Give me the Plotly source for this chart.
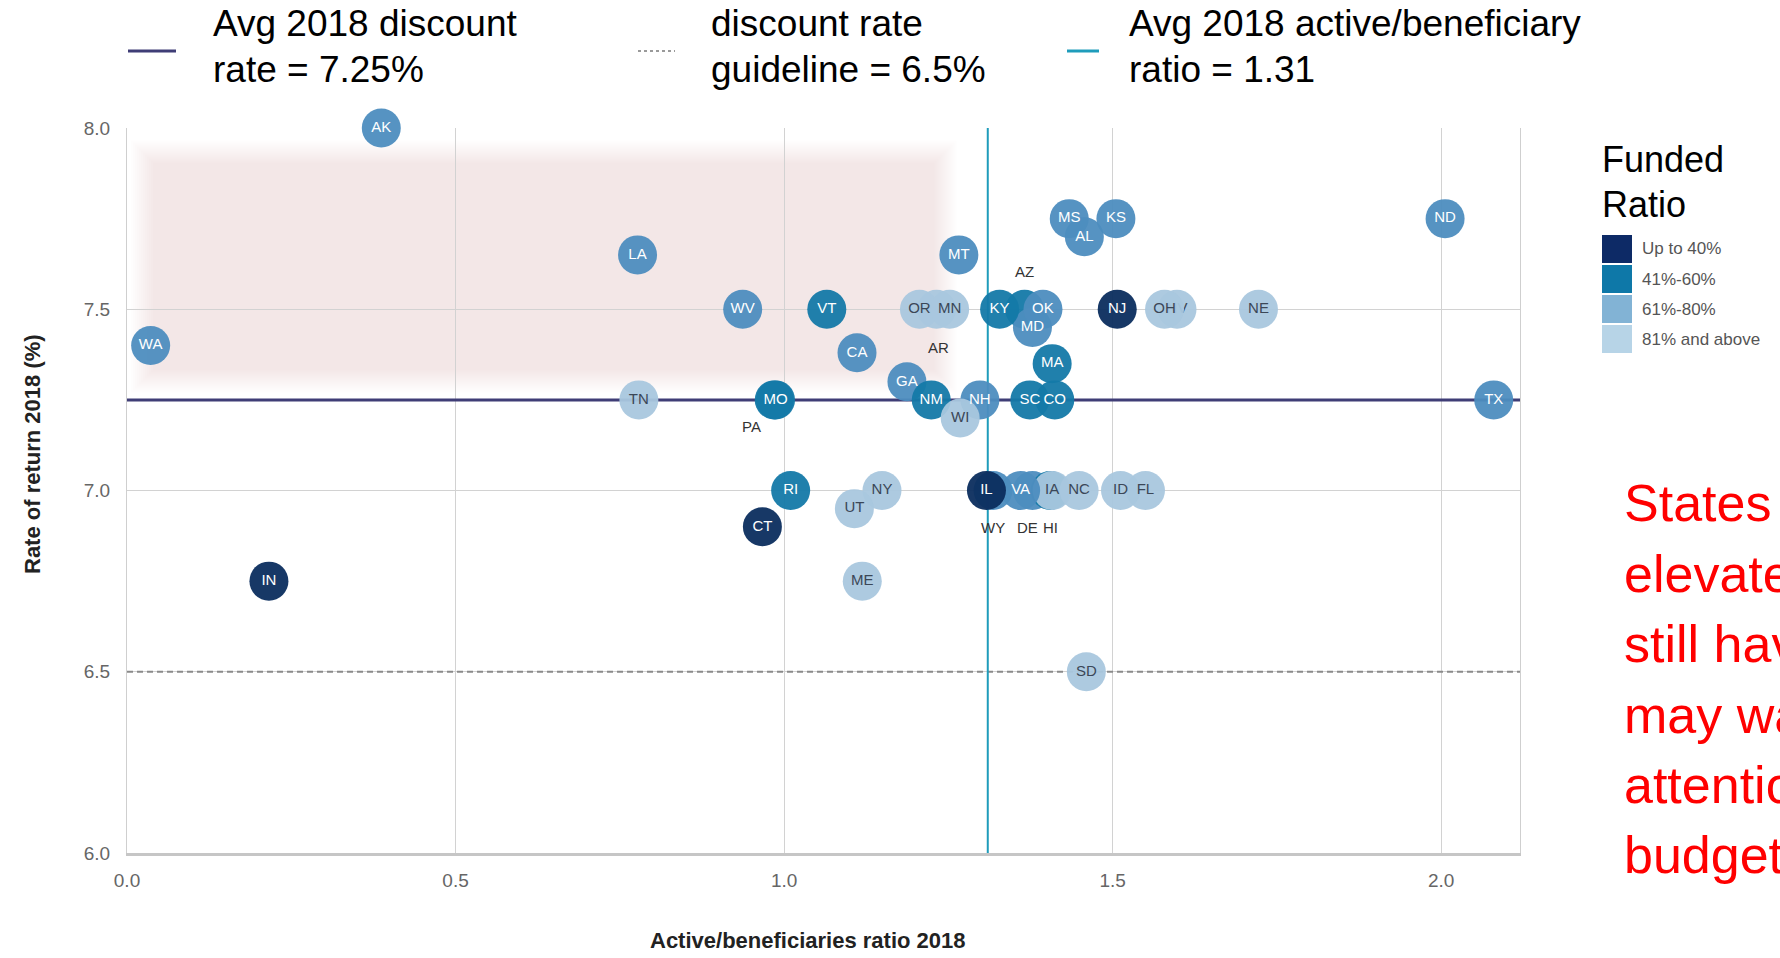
import plotly.graph_objects as go

# ---------------------------------------------------------------- data
funded_labels = ["Up to 40%", "41%-60%", "61%-80%", "81% and above"]

# states in drawing order (back to front)
states = ["AR", "AZ", "PA", "WY", "DE", "HI",
          "AK", "LA", "WA", "WV", "VT", "OR", "MN", "MT", "CA", "GA",
          "NM", "NH", "WI", "TN", "MO", "MD", "OK", "KY", "MS", "AL",
          "KS", "NJ", "NV", "OH", "NE", "ND", "TX", "MA", "CO", "SC",
          "RI", "CT", "NY", "UT", "ME", "IN", "IA", "NC", "VA", "IL",
          "FL", "ID", "SD"]

active_ratio = [1.232, 1.366, 0.985, 1.318, 1.378, 1.405,
                0.387, 0.777, 0.036, 0.937, 1.065, 1.206, 1.252, 1.266, 1.111, 1.187,
                1.224, 1.298, 1.268, 0.779, 0.987, 1.378, 1.394, 1.328, 1.434, 1.457,
                1.505, 1.507, 1.598, 1.579, 1.722, 2.006, 2.080, 1.408, 1.412, 1.374,
                1.010, 0.967, 1.149, 1.107, 1.119, 0.216, 1.408, 1.449, 1.360, 1.308,
                1.550, 1.512, 1.460]

return_rate = [7.50, 7.50, 7.25, 7.00, 7.00, 7.00,
               8.00, 7.65, 7.40, 7.50, 7.50, 7.50, 7.50, 7.65, 7.38, 7.30,
               7.25, 7.25, 7.20, 7.25, 7.25, 7.45, 7.50, 7.50, 7.75, 7.70,
               7.75, 7.50, 7.50, 7.50, 7.50, 7.75, 7.25, 7.35, 7.25, 7.25,
               7.00, 6.90, 7.00, 6.95, 6.75, 6.75, 7.00, 7.00, 7.00, 7.00,
               7.00, 7.00, 6.50]

# funded-ratio band index into funded_labels
funded_band = [3, 1, 1, 2, 2, 1,
               2, 2, 2, 2, 1, 3, 3, 2, 2, 2,
               1, 2, 3, 3, 1, 2, 2, 1, 2, 2,
               2, 0, 3, 3, 3, 2, 2, 1, 1, 1,
               1, 0, 3, 3, 3, 0, 3, 3, 2, 0,
               3, 3, 3]

# states whose bubble is hidden behind neighbours get an outside label
callout_states = ["AR", "AZ", "PA", "WY", "DE", "HI"]
# label drawn beneath the neighbouring bubble
buried_label_states = ["NV"]

AVG_DISCOUNT = 7.25
GUIDELINE = 6.5
AVG_RATIO = 1.31

x_ticks = [0.0, 0.5, 1.0, 1.5, 2.0]
y_ticks = [6.0, 6.5, 7.0, 7.5, 8.0]

legend_texts = [["Avg 2018 discount", "rate = 7.25%"],
                ["discount rate", "guideline = 6.5%"],
                ["Avg 2018 active/beneficiary", "ratio = 1.31"]]

note_lines = ["States with", "elevated", "still have", "may want", "attention", "budget"]

# ---------------------------------------------------------------- styling
W, H = 1780, 958
ML, MR, MT_, MB = 127, 260, 128, 105
PW, PH = W - ML - MR, H - MT_ - MB
X_RANGE = [0, 2.12]
Y_RANGE = [6.0, 8.0]

marker_colors = ["#0b2d5e", "#1479a8", "#4d8dbf", "#a9c7de"]
swatch_colors = ["#0d2a66", "#0e78a8", "#82b3d5", "#b7d4e7"]
text_colors = ["#ffffff", "#ffffff", "#ffffff", "#3b4757"]

NAVY = "#3f3d76"
TEAL = "#1f9cbb"
GUIDE_GREY = "#8a8a8a"
GRID = "#d2d2d2"
FONT = "Liberation Sans, Arial, sans-serif"
MARKER_SIZE = 39
LABEL_SIZE = 15

callout_shift = {"AR": (2, -38), "AZ": (0, 38), "PA": (-23, -27),
                 "WY": (0, -37), "DE": (-5, -37), "HI": (0, -37)}


def px_x(px):
    return (px - ML) / PW


def px_y(py):
    return 1 - (py - MT_) / PH


fig = go.Figure()

# reference lines, drawn first so the bubbles sit on top
fig.add_trace(go.Scatter(x=X_RANGE, y=[AVG_DISCOUNT, AVG_DISCOUNT], mode="lines",
                         line=dict(color=NAVY, width=3), hoverinfo="skip",
                         showlegend=False))
fig.add_trace(go.Scatter(x=X_RANGE, y=[GUIDELINE, GUIDELINE], mode="lines",
                         line=dict(color=GUIDE_GREY, width=2, dash="6px,4px"),
                         hoverinfo="skip", showlegend=False))
fig.add_trace(go.Scatter(x=[AVG_RATIO, AVG_RATIO], y=Y_RANGE, mode="lines",
                         line=dict(color=TEAL, width=2), hoverinfo="skip",
                         showlegend=False))

# bubbles, one trace each so later states overlap earlier ones
for st, xv, yv, band in zip(states, active_ratio, return_rate, funded_band):
    buried = st in buried_label_states
    fig.add_trace(go.Scatter(
        x=[xv], y=[yv],
        mode="markers+text" if buried else "markers",
        text=[st] if buried else None,
        textposition="middle center",
        textfont=dict(family=FONT, size=LABEL_SIZE, color=text_colors[band]),
        marker=dict(size=MARKER_SIZE, color=marker_colors[band], opacity=0.95,
                    line=dict(width=0)),
        cliponaxis=False,
        showlegend=False,
        hoverinfo="text",
        hovertext=f"{st}: {xv:.2f}, {yv:.2f}% ({funded_labels[band]})",
    ))

# state labels on top of all bubbles
lab_x, lab_y, lab_t, lab_c = [], [], [], []
for st, xv, yv, band in zip(states, active_ratio, return_rate, funded_band):
    if st in callout_states or st in buried_label_states:
        continue
    lab_x.append(xv)
    lab_y.append(yv)
    lab_t.append(st)
    lab_c.append(text_colors[band])
fig.add_trace(go.Scatter(
    x=lab_x, y=lab_y, text=lab_t, mode="text", textposition="middle center",
    textfont=dict(family=FONT, size=LABEL_SIZE, color=lab_c),
    cliponaxis=False, hoverinfo="skip", showlegend=False))

annotations = []
shapes = []

# outside labels for hidden bubbles
for st, xv, yv in zip(states, active_ratio, return_rate):
    if st in callout_states:
        dx, dy = callout_shift[st]
        annotations.append(dict(
            x=xv, y=yv, xref="x", yref="y", text=st, showarrow=False,
            xshift=dx, yshift=dy,
            font=dict(family=FONT, size=15, color="#333333")))

# soft pink highlight zone (layered for a feathered edge)
SHADE_X = [0.006, 1.262]
SHADE_Y = [7.27, 7.965]
n_layers = 12
step_px = 2.0
ux = (X_RANGE[1] - X_RANGE[0]) / PW
uy = (Y_RANGE[1] - Y_RANGE[0]) / PH
for i in range(n_layers):
    shapes.append(dict(
        type="rect", xref="x", yref="y", layer="below",
        x0=SHADE_X[0] + i * step_px * ux, x1=SHADE_X[1] - i * step_px * ux,
        y0=SHADE_Y[0] + i * step_px * uy, y1=SHADE_Y[1] - i * step_px * uy,
        fillcolor="rgba(215,140,140,0.02)", line=dict(width=0)))

# top legend
sym_x = [(128, 176), (638, 675), (1067, 1099)]
sym_style = [dict(color=NAVY, width=3),
             dict(color="#9a9a9a", width=2, dash="dot"),
             dict(color=TEAL, width=3)]
text_x = [211, 709, 1127]
for (a, b), style, tx, lines in zip(sym_x, sym_style, text_x, legend_texts):
    shapes.append(dict(type="line", xref="paper", yref="paper",
                       x0=px_x(a), x1=px_x(b), y0=px_y(51), y1=px_y(51),
                       line=style))
    for ly, line in zip([24, 69], lines):
        annotations.append(dict(
            xref="paper", yref="paper", x=px_x(tx), y=px_y(ly),
            xanchor="left", yanchor="middle", text=line, showarrow=False,
            font=dict(family=FONT, size=37, color="#000000")))

# funded ratio legend
for ly, line in zip([160, 205], ["Funded", "Ratio"]):
    annotations.append(dict(
        xref="paper", yref="paper", x=px_x(1600), y=px_y(ly),
        xanchor="left", yanchor="middle", text=line, showarrow=False,
        font=dict(family=FONT, size=36, color="#000000")))
for i, (lab, col) in enumerate(zip(funded_labels, swatch_colors)):
    top = 235 + i * 30
    shapes.append(dict(type="rect", xref="paper", yref="paper",
                       x0=px_x(1602), x1=px_x(1632),
                       y0=px_y(top), y1=px_y(top + 28),
                       fillcolor=col, line=dict(width=0)))
    annotations.append(dict(
        xref="paper", yref="paper", x=px_x(1640), y=px_y(top + 14),
        xanchor="left", yanchor="middle", text=lab, showarrow=False,
        font=dict(family=FONT, size=17, color="#555555")))

# side note
for i, line in enumerate(note_lines):
    annotations.append(dict(
        xref="paper", yref="paper", x=px_x(1622), y=px_y(503 + i * 70.5),
        xanchor="left", yanchor="middle", text=line, showarrow=False,
        font=dict(family=FONT, size=52, color="#ff0000")))

# axis titles
annotations.append(dict(
    xref="paper", yref="paper", x=px_x(808), y=px_y(940),
    xanchor="center", yanchor="middle", showarrow=False,
    text="<b>Active/beneficiaries ratio 2018</b>",
    font=dict(family=FONT, size=22, color="#222222")))
annotations.append(dict(
    xref="paper", yref="paper", x=px_x(32), y=px_y(454),
    xanchor="center", yanchor="middle", showarrow=False, textangle=-90,
    text="<b>Rate of return 2018 (%)</b>",
    font=dict(family=FONT, size=22, color="#222222")))

fig.update_layout(
    width=W, height=H,
    margin=dict(l=ML, r=MR, t=MT_, b=MB, pad=0),
    paper_bgcolor="#ffffff", plot_bgcolor="#ffffff",
    showlegend=False,
    shapes=shapes, annotations=annotations,
    font=dict(family=FONT),
)
fig.update_xaxes(
    range=X_RANGE, tickvals=x_ticks, ticktext=[f"{v:.1f}" for v in x_ticks],
    showgrid=True, gridcolor=GRID, gridwidth=1, zeroline=False,
    showline=True, linecolor="#c6c6c6", linewidth=2.5, mirror=False,
    ticks="", ticklabelstandoff=8,
    tickfont=dict(family=FONT, size=19, color="#666666"))
fig.update_yaxes(
    range=Y_RANGE, tickvals=y_ticks, ticktext=[f"{v:.1f}" for v in y_ticks],
    showgrid=True, gridcolor=GRID, gridwidth=1, zeroline=False,
    showline=True, linecolor="#cfcfcf", linewidth=1, mirror=True,
    ticks="", ticklabelstandoff=12,
    tickfont=dict(family=FONT, size=19, color="#666666"))

fig.write_html("out.html")
